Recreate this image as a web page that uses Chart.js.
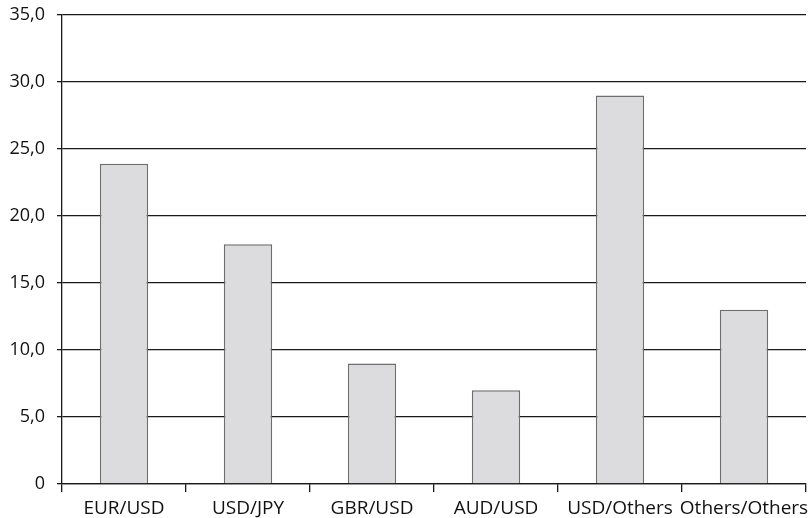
<!DOCTYPE html>
<html lang="en">

<head>
    <meta charset="UTF-8" />
    <title>Currency pairs</title>
    <script src="https://cdn.jsdelivr.net/npm/chart.js"></script>
    <style>
        html, body { margin: 0; padding: 0; background: #fff; }
        .chart-container { width: 810px; height: 518px; }
    </style>
</head>

<body>
    <div class="chart-container">
        <canvas id="pairsChart"></canvas>
    </div>

    <script>
        // Доли валютных пар, %
        const pairs = ['EUR/USD', 'USD/JPY', 'GBR/USD', 'AUD/USD', 'USD/Others', 'Others/Others'];
        const shares = [23.9, 17.9, 9.0, 7.0, 29.0, 13.0];
        const yTicks = [0, 5, 10, 15, 20, 25, 30, 35];

        const fontFamily = "'Open Sans', sans-serif";

        const ctx = document.getElementById('pairsChart').getContext('2d');
        const pairsChart = new Chart(ctx, {
            type: 'bar',
            data: {
                labels: pairs,
                datasets: [{
                    label: 'Share',
                    data: shares,
                    backgroundColor: '#dcdcde',
                    borderColor: '#6e6e6e',
                    borderWidth: 1.5,
                    categoryPercentage: 1,
                    barPercentage: 0.39
                }]
            },
            options: {
                responsive: true,
                maintainAspectRatio: false,
                animation: false,
                layout: { padding: { top: 15, right: 4, left: 0, bottom: 0 } },
                scales: {
                    x: {
                        grid: {
                            display: true,
                            offset: true,
                            drawOnChartArea: false,
                            drawTicks: true,
                            tickLength: 8,
                            color: '#1a1a1a',
                            lineWidth: 1.3
                        },
                        border: { display: true, color: '#1a1a1a', width: 1.3 },
                        ticks: {
                            color: '#111',
                            padding: 5,
                            maxRotation: 0,
                            autoSkip: false,
                            font: { family: fontFamily, size: 19 }
                        },
                        afterFit: (scale) => {
                            scale.height = 34;
                            scale.paddingRight = 0;
                        }
                    },
                    y: {
                        min: 0,
                        max: 35,
                        afterBuildTicks: (scale) => {
                            scale.ticks = yTicks.map(v => ({ value: v }));
                        },
                        grid: {
                            color: '#1a1a1a',
                            lineWidth: 1.3,
                            drawTicks: true,
                            tickLength: 5
                        },
                        border: { display: true, color: '#1a1a1a', width: 1.3 },
                        ticks: {
                            color: '#111',
                            padding: 12,
                            font: { family: fontFamily, size: 18 },
                            callback: (v) => v === 0 ? '0' : v.toFixed(1).replace('.', ',')
                        },
                        afterFit: (scale) => {
                            // фиксированная ширина оси, без лишнего отступа сверху
                            scale.width = 62;
                            scale.paddingTop = 0;
                            scale.paddingBottom = 0;
                        }
                    }
                },
                plugins: {
                    legend: { display: false },
                    tooltip: { enabled: false }
                }
            }
        });
    </script>
</body>

</html>
